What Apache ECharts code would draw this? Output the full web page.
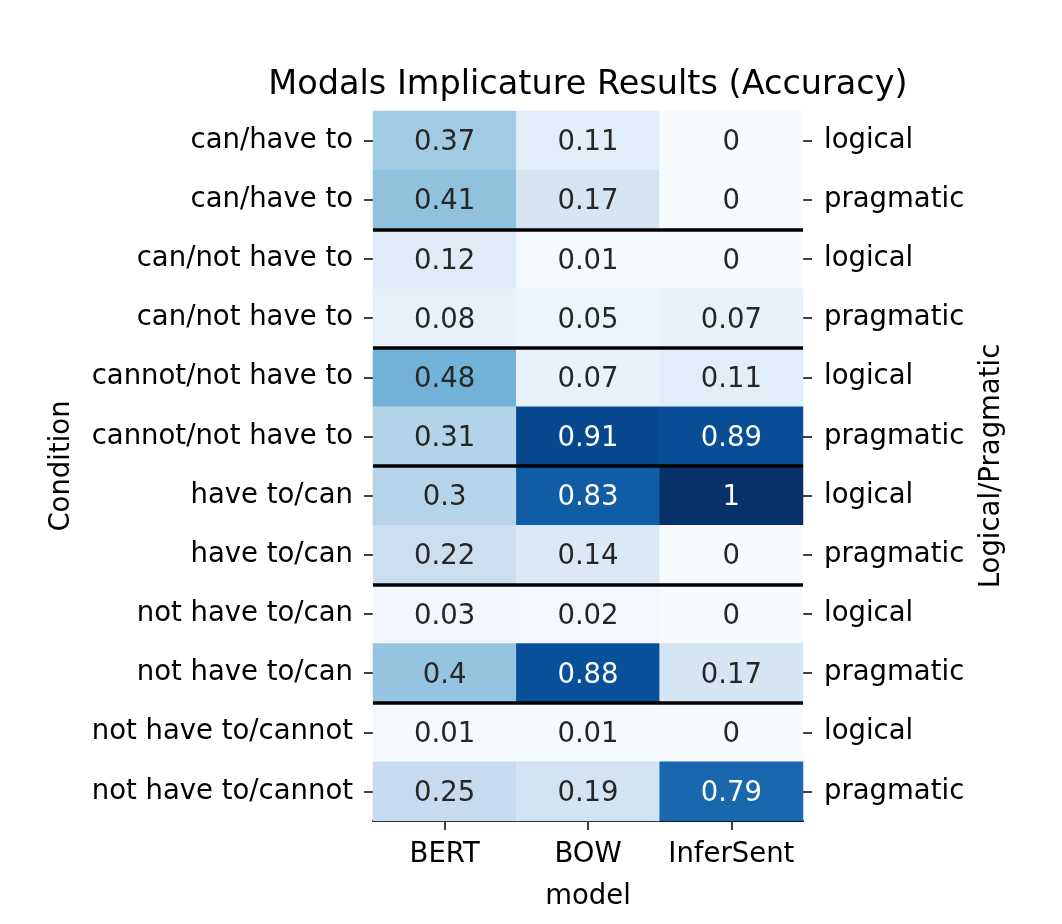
<!DOCTYPE html>
<html lang="en">
<head>
    <meta charset="UTF-8">
    <title>Modals Implicature Results</title>
    <style>
        html, body { margin: 0; padding: 0; background: #fff; }
        #chart { width: 1062px; height: 924px; }
    </style>
</head>
<body>
<div id="chart"></div>
<script src="https://cdn.jsdelivr.net/npm/echarts@6/dist/echarts.min.js"></script>
<script>
    var models = ['BERT', 'BOW', 'InferSent'];
    var conditions = [
        'can/have to', 'can/have to',
        'can/not have to', 'can/not have to',
        'cannot/not have to', 'cannot/not have to',
        'have to/can', 'have to/can',
        'not have to/can', 'not have to/can',
        'not have to/cannot', 'not have to/cannot'
    ];
    var kinds = ['logical', 'pragmatic', 'logical', 'pragmatic', 'logical', 'pragmatic',
                 'logical', 'pragmatic', 'logical', 'pragmatic', 'logical', 'pragmatic'];
    // one entry per condition row
    var bertAcc = [0.37, 0.41, 0.12, 0.08, 0.48, 0.31, 0.3, 0.22, 0.03, 0.4, 0.01, 0.25];
    var bowAcc = [0.11, 0.17, 0.01, 0.05, 0.07, 0.91, 0.83, 0.14, 0.02, 0.88, 0.01, 0.19];
    var inferAcc = [0, 0, 0, 0.07, 0.11, 0.89, 1, 0, 0, 0.17, 0, 0.79];
    var separators = [2, 4, 6, 8, 10];

    var blues = ['#f7fbff', '#deebf7', '#c6dbef', '#9ecae1', '#6baed6',
                 '#4292c6', '#2171b5', '#08519c', '#08306b'];

    var cols = [bertAcc, bowAcc, inferAcc];
    var cells = [];
    cols.forEach(function (vals, x) {
        vals.forEach(function (v, y) {
            cells.push({
                value: [x, y, v],
                label: { color: v > 0.6 ? '#ffffff' : '#262626' }
            });
        });
    });

    var font = 'DejaVu Sans';
    var fs = 27.5;
    var tick = { show: true, alignWithLabel: true, length: 9, lineStyle: { color: '#000', width: 1.5 } };
    var chart = echarts.init(document.getElementById('chart'));
    chart.setOption({
        animation: false,
        textStyle: { fontFamily: font },
        title: {
            text: 'Modals Implicature Results (Accuracy)',
            left: 583, top: 63, textAlign: 'center',
            textStyle: { fontFamily: font, fontSize: 33.5, fontWeight: 'normal', color: '#000' }
        },
        grid: { left: 373, top: 111, width: 430, height: 710 },
        visualMap: {
            show: false, type: 'continuous', min: 0, max: 1,
            dimension: 2, seriesIndex: 0,
            inRange: { color: blues }
        },
        xAxis: {
            type: 'category', data: models, position: 'bottom',
            name: 'model', nameLocation: 'middle', nameGap: 62,
            nameTextStyle: { fontFamily: font, fontSize: fs, color: '#000' },
            axisLine: { show: true, onZero: false, lineStyle: { color: '#000', width: 2 } },
            axisTick: tick,
            axisLabel: { fontFamily: font, fontSize: fs, color: '#000', margin: 20, interval: 0, hideOverlap: false },
            splitLine: { show: false }
        },
        yAxis: [{
            type: 'category', data: conditions, inverse: true, position: 'left',
            name: 'Condition', nameLocation: 'middle', nameGap: 297, nameRotate: 90,
            nameTextStyle: { fontFamily: font, fontSize: fs, color: '#000' },
            axisLine: { show: false },
            axisTick: tick,
            axisLabel: { fontFamily: font, fontSize: fs, color: '#000', margin: 20, interval: 0, padding: [5, 0, 0, 0] },
            splitLine: { show: false }
        }, {
            type: 'category', data: kinds, inverse: true, position: 'right',
            name: 'Logical/Pragmatic', nameLocation: 'middle', nameGap: 175, nameRotate: 90,
            nameTextStyle: { fontFamily: font, fontSize: fs, color: '#000' },
            axisLine: { show: false },
            axisTick: tick,
            axisLabel: { fontFamily: font, fontSize: fs, color: '#000', margin: 21, interval: 0, padding: [5, 0, 0, 0] },
            splitLine: { show: false }
        }, {
            type: 'value', min: 0, max: conditions.length, inverse: true, show: false
        }],
        series: [{
            type: 'heatmap',
            xAxisIndex: 0, yAxisIndex: 0,
            data: cells,
            label: {
                show: true, fontFamily: font, fontSize: fs, offset: [0, 2.5],
                formatter: function (p) { return String(p.value[2]); }
            },
            itemStyle: { borderWidth: 0 },
            emphasis: { disabled: true }
        }, {
            type: 'line',
            xAxisIndex: 0, yAxisIndex: 2,
            data: [],
            silent: true,
            markLine: {
                symbol: 'none', silent: true, animation: false,
                label: { show: false },
                lineStyle: { color: '#000', width: 3.5, type: 'solid' },
                data: separators.map(function (s) { return { yAxis: s }; })
            }
        }]
    });
</script>
</body>
</html>
